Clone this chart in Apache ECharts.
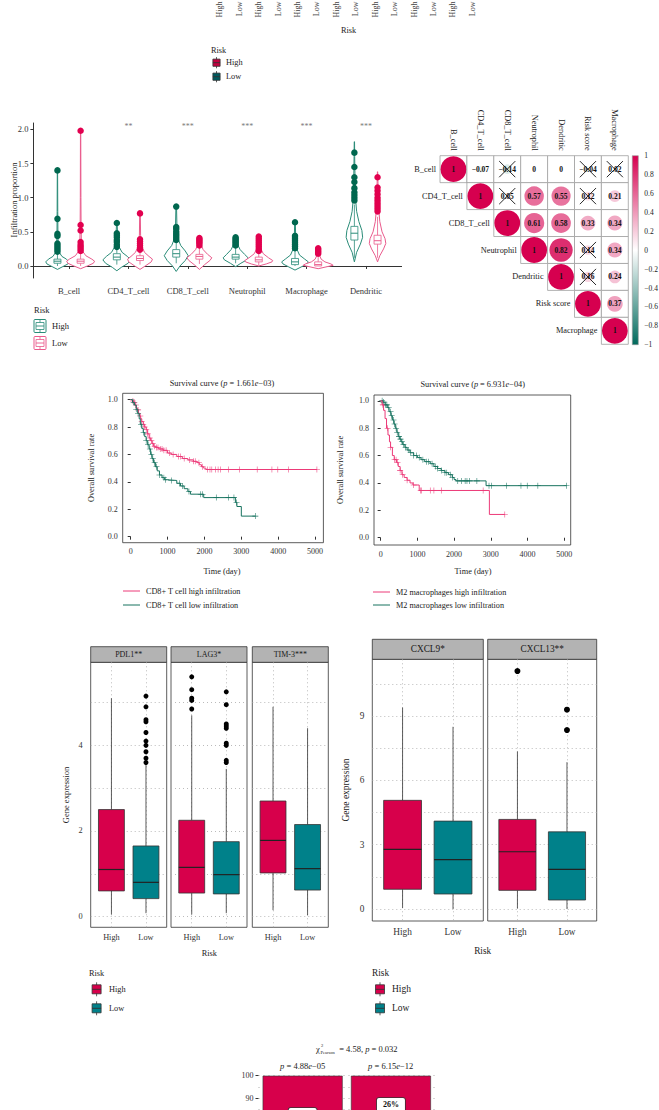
<!DOCTYPE html>
<html>
<head>
<meta charset="utf-8">
<script src="https://cdn.jsdelivr.net/npm/echarts@6/dist/echarts.min.js"></script>
<style>
html,body{margin:0;padding:0;background:#fff;}
#main{width:659px;height:1110px;}
</style>
</head>
<body>
<div id="main"></div>
<script>
var FONT = '"Liberation Serif", "DejaVu Serif", serif';

// panel A (only its bottom is visible)
var topLabels = ['High','Low','High','Low','High','Low','High','Low','High','Low','High','Low','High','Low'];

// panel B: violins
var cellTypes = ['B_cell','CD4_T_cell','CD8_T_cell','Neutrophil','Macrophage','Dendritic'];
var cellSignif = ['','**','***','***','***','***'];
var violinTicks = [0, 0.5, 1, 1.5, 2];
// [lower, q1, median, q3, upper]
var vHighBox = [[0,0.04,0.07,0.10,0.19],[0.02,0.09,0.13,0.18,0.26],[0.04,0.13,0.18,0.24,0.36],[0.04,0.10,0.13,0.17,0.27],[0,0.02,0.06,0.11,0.25],[0.12,0.38,0.48,0.58,0.9]];
var vLowBox  = [[0,0.04,0.07,0.10,0.19],[0.02,0.08,0.11,0.15,0.24],[0.03,0.10,0.14,0.17,0.27],[0.01,0.06,0.09,0.13,0.21],[0,0.00,0.02,0.06,0.13],[0.12,0.32,0.37,0.45,0.72]];
var vHighOut = [[1.4,0.69,0.47,0.44,0.33,0.3,0.27,0.24,0.21],[0.63,0.48,0.45,0.42,0.38,0.35,0.31,0.28],[0.87,0.57,0.54,0.5,0.47,0.44,0.41,0.38],[0.42,0.4,0.38,0.36,0.34,0.32,0.3],[0.64,0.44,0.41,0.38,0.35,0.32,0.29,0.26],[1.66,1.45,1.3,1.23,1.14,1.08,1.04,1.0,0.96]];
var vLowOut  = [[1.98,0.6,0.52,0.35,0.31,0.28,0.25,0.22],[0.77,0.39,0.36,0.33,0.3,0.27,0.24],[0.41,0.39,0.37,0.35,0.33,0.3],[0.43,0.4,0.37,0.34,0.31,0.28,0.25,0.22],[0.26,0.24,0.22,0.2,0.18],[1.3,1.15,1.1,1.05,1.0,0.96,0.92,0.88,0.84,0.8]];
// density profile [value, relative half width]
var vHighDens = [
  [[-0.05,0],[-0.01,0.35],[0.03,0.7],[0.06,0.78],[0.1,0.6],[0.14,0.3],[0.2,0.12],[0.3,0.05],[0.5,0.03],[0.8,0.02],[1.4,0.01]],
  [[-0.07,0],[-0.02,0.3],[0.04,0.75],[0.09,0.93],[0.14,0.7],[0.2,0.35],[0.28,0.15],[0.4,0.06],[0.63,0.02]],
  [[-0.08,0],[0,0.25],[0.08,0.6],[0.15,0.8],[0.22,0.6],[0.3,0.3],[0.4,0.12],[0.55,0.05],[0.87,0.02]],
  [[-0.01,0],[0.04,0.35],[0.09,0.75],[0.12,0.83],[0.17,0.6],[0.24,0.3],[0.32,0.12],[0.42,0.03]],
  [[-0.06,0],[-0.01,0.45],[0.03,0.8],[0.06,0.89],[0.1,0.65],[0.16,0.3],[0.25,0.12],[0.4,0.05],[0.64,0.02]],
  [[0.06,0],[0.2,0.15],[0.32,0.4],[0.42,0.55],[0.52,0.5],[0.65,0.3],[0.8,0.15],[1.0,0.07],[1.3,0.04],[1.6,0.02],[1.82,0.01]]
];
var vLowDens = [
  [[-0.04,0],[0,0.45],[0.04,0.85],[0.07,0.93],[0.1,0.75],[0.15,0.35],[0.22,0.12],[0.35,0.05],[0.6,0.03],[1.0,0.02],[1.98,0.01]],
  [[-0.05,0],[0,0.35],[0.06,0.75],[0.1,0.83],[0.14,0.6],[0.2,0.3],[0.3,0.1],[0.45,0.04],[0.77,0.02]],
  [[-0.05,0],[0.02,0.35],[0.08,0.7],[0.12,0.83],[0.17,0.55],[0.24,0.25],[0.32,0.1],[0.41,0.03]],
  [[0,0],[0.03,0.5],[0.06,0.88],[0.08,0.93],[0.12,0.65],[0.18,0.3],[0.26,0.12],[0.35,0.05],[0.43,0.02]],
  [[-0.04,0],[-0.01,0.6],[0.01,1.0],[0.03,0.85],[0.06,0.45],[0.1,0.2],[0.16,0.08],[0.26,0.03]],
  [[0.06,0],[0.15,0.15],[0.25,0.4],[0.33,0.55],[0.4,0.5],[0.5,0.3],[0.65,0.15],[0.85,0.07],[1.1,0.04],[1.38,0.01]]
];

// panel C: correlation
var corrVars = ['B_cell','CD4_T_cell','CD8_T_cell','Neutrophil','Dendritic','Risk score','Macrophage'];
var corrMatrix = [
  [1,-0.07,-0.14,0,0,-0.04,0.02],
  [null,1,0.05,0.57,0.55,0.12,0.21],
  [null,null,1,0.61,0.58,0.33,0.34],
  [null,null,null,1,0.82,0.14,0.34],
  [null,null,null,null,1,0.16,0.24],
  [null,null,null,null,null,1,0.37],
  [null,null,null,null,null,null,1]
];
var corrNonSig = [[0,2],[0,5],[0,6],[1,2],[1,5],[3,5],[4,5]];
var corrTicks = [-1,-0.8,-0.6,-0.4,-0.2,0,0.2,0.4,0.6,0.8,1];

// panel D/E: survival
var survTicksX = [0,1000,2000,3000,4000,5000];
var survTicksY = [0,0.2,0.4,0.6,0.8,1];
var cd8High = [[0,1],[40,0.99],[80,0.98],[120,0.96],[150,0.94],[180,0.925],[210,0.9],[240,0.88],[270,0.86],[300,0.84],[340,0.82],[380,0.8],[420,0.78],[460,0.75],[500,0.72],[540,0.7],[580,0.68],[620,0.66],[680,0.65],[760,0.64],[880,0.63],[1000,0.61],[1100,0.6],[1250,0.585],[1400,0.57],[1550,0.56],[1700,0.55],[1800,0.54],[1860,0.525],[1920,0.51],[1980,0.5],[2040,0.49],[5050,0.49]];
var cd8HighCens = [60,100,140,200,260,300,340,380,420,460,520,560,600,650,700,740,800,850,900,960,1050,1150,1300,1350,1450,1600,1700,1750,1850,1950,2080,2150,2200,2300,2370,2430,2650,2950,3430,3830,3990,4280,5050];
var cd8Low = [[0,1],[50,0.98],[100,0.96],[150,0.93],[190,0.9],[230,0.86],[260,0.82],[300,0.79],[340,0.76],[380,0.73],[420,0.7],[460,0.67],[500,0.64],[540,0.6],[580,0.57],[620,0.54],[670,0.51],[720,0.48],[780,0.45],[850,0.43],[920,0.415],[1000,0.41],[1250,0.39],[1350,0.37],[1450,0.35],[1550,0.33],[1620,0.31],[1980,0.285],[2840,0.25],[2880,0.22],[3000,0.15],[3380,0.15]];
var cd8LowCens = [80,150,200,280,350,420,470,520,560,600,650,700,780,900,950,1100,1320,1400,1580,1900,1950,2320,2650,2800,2870,3380];
var m2High = [[0,1],[40,0.97],[80,0.93],[120,0.87],[160,0.8],[200,0.75],[240,0.7],[270,0.66],[320,0.6],[370,0.57],[430,0.55],[480,0.52],[530,0.49],[580,0.46],[640,0.44],[720,0.42],[800,0.4],[880,0.385],[1050,0.345],[2960,0.17],[3380,0.17]];
var m2HighCens = [60,190,270,380,420,460,530,600,720,900,1090,1110,1350,1450,1650,2790,3380];
var m2Low = [[0,1],[60,0.99],[120,0.97],[180,0.95],[230,0.92],[280,0.89],[320,0.86],[360,0.83],[400,0.8],[440,0.77],[480,0.74],[520,0.72],[560,0.7],[600,0.68],[660,0.66],[720,0.64],[800,0.62],[900,0.6],[1000,0.585],[1100,0.57],[1200,0.555],[1350,0.54],[1450,0.52],[1550,0.505],[1650,0.49],[1750,0.475],[1850,0.46],[1950,0.44],[2000,0.425],[2050,0.415],[2870,0.38],[5060,0.38]];
var m2LowCens = [40,80,130,170,220,270,300,350,380,420,450,500,540,580,620,680,750,820,900,980,1050,1150,1250,1300,1400,1500,1550,1650,1750,1800,1900,1950,2100,2200,2300,2350,2420,2620,2950,3020,3430,3820,3990,4280,5060];

// panel F/G: checkpoint genes, [lower, q1, median, q3, upper]
var riskGroups = ['High','Low'];
var genesA = ['PDL1**','LAG3*','TIM-3***'];
var genesAStats = [
  [[0.05,0.6,1.1,2.5,5.1],[0.08,0.42,0.8,1.65,3.55]],
  [[0.05,0.55,1.15,2.25,4.7],[0.08,0.53,0.98,1.75,3.45]],
  [[0.15,1.02,1.78,2.7,4.9],[0.03,0.62,1.12,2.15,4.4]]
];
var genesAOut = [
  [[],[3.6,3.7,3.85,4.0,4.1,4.3,4.55,4.6,4.9,5.15]],
  [[4.85,5.05,5.1,5.3,5.6],[3.6,3.65,4.0,4.05,4.4,4.45,4.5,4.95,5.25]],
  [[],[]]
];
var genesATicks = [0,2,4];
var genesAGrid = [0,1,2,3,4,5];
var genesB = ['CXCL9*','CXCL13**'];
var genesBStats = [
  [[0.05,0.92,2.78,5.07,9.4],[0,0.7,2.3,4.1,8.5]],
  [[0.02,0.87,2.67,4.18,7.35],[0,0.42,1.85,3.6,6.85]]
];
var genesBOut = [[[],[]],[[11.1],[8.35,9.3]]];
var genesBTicks = [0,3,6,9];
var genesBGrid = [0,1.5,3,4.5,6,7.5,9,10.5];

// panel H: proportions (top of bars only visible)
var barGroups = ['High','Low'];
var barHighPct = [35, 26];
var barLowPct = [65, 74];
var barTicksShown = [90, 100];

var RED = '#D7004B', TEAL = '#00818A';
var VG_DOT = '#00674F', VG_LINE = '#2A8C78', VP_DOT = '#E2004F', VP_LINE = '#EA5A8C';
var S_PINK = '#EC3A78', S_GREEN = '#17735F';
var C_POS = [214, 0, 79], C_NEG = [0, 105, 92];

function lab(size, extra){ var o = {fontFamily: FONT, fontSize: size, color: '#333'}; for (var k in extra) o[k] = extra[k]; return o; }
function gbox(l, t, w, h, extra){ var g = {left:l, top:t, width:w, height:h, containLabel:false, outerBoundsMode:'none'}; for (var k in extra) g[k] = extra[k]; return g; }
function fmt1(v){ return v.toFixed(1); }

var grids = [], xAxes = [], yAxes = [], series = [], gfx = [];

// ---------- grid 0: bottom of panel A ----------
grids.push(gbox(210, -100, 272, 95.5));
xAxes.push({type:'category', gridIndex:0, data: topLabels, axisLine:{show:false}, axisTick:{show:false},
  axisLabel: lab(8, {rotate:90, margin:6, interval:0, color:'#444'})});
yAxes.push({type:'value', gridIndex:0, show:false});

// ---------- grid 1: violins ----------
grids.push(gbox(33.4, 123, 368.2, 155));
xAxes.push({type:'value', gridIndex:1, min:0.4, max:6.6, splitLine:{show:false},
  axisLine:{lineStyle:{color:'#333', width:1}},
  axisTick:{customValues:[1,2,3,4,5,6], length:3, lineStyle:{color:'#333'}},
  axisLabel: lab(8.5, {customValues:[1,2,3,4,5,6], margin:8, formatter:function(v){ return cellTypes[Math.round(v)-1]; }})});
yAxes.push({type:'value', gridIndex:1, min:-0.176, max:2.094, splitLine:{show:false},
  axisLine:{show:true, lineStyle:{color:'#333', width:1}},
  axisTick:{show:true, customValues:violinTicks, length:3, lineStyle:{color:'#333'}},
  axisLabel: lab(8.5, {customValues:violinTicks, margin:5, formatter:fmt1})});

var VW = 15, VBW = 7, DODGE = 0.195;
function violinSeries(dens, box, off, stroke, name){
  return {
    type:'custom', name:name, xAxisIndex:1, yAxisIndex:1, z:2,
    data: cellTypes.map(function(c, i){ return [i + 1 + off, box[i][2]]; }),
    renderItem: function(params, api){
      var i = params.dataIndex, d = dens[i], b = box[i];
      var cx = api.coord([api.value(0), 0])[0], pts = [], k;
      for (k = 0; k < d.length; k++) pts.push([cx - d[k][1] * VW, api.coord([0, d[k][0]])[1]]);
      for (k = d.length - 1; k >= 0; k--) pts.push([cx + d[k][1] * VW, api.coord([0, d[k][0]])[1]]);
      var yl = api.coord([0, b[0]])[1], y1 = api.coord([0, b[1]])[1], ym = api.coord([0, b[2]])[1],
          y3 = api.coord([0, b[3]])[1], yh = api.coord([0, b[4]])[1];
      return {type:'group', children:[
        {type:'polygon', shape:{points:pts}, style:{fill:'#fff', stroke:stroke, lineWidth:1}},
        {type:'line', shape:{x1:cx, y1:yl, x2:cx, y2:y1}, style:{stroke:stroke, lineWidth:0.8}},
        {type:'line', shape:{x1:cx, y1:y3, x2:cx, y2:yh}, style:{stroke:stroke, lineWidth:0.8}},
        {type:'rect', shape:{x:cx - VBW/2, y:y3, width:VBW, height:Math.max(y1 - y3, 1)}, style:{fill:'#fff', stroke:stroke, lineWidth:0.8}},
        {type:'line', shape:{x1:cx - VBW/2, y1:ym, x2:cx + VBW/2, y2:ym}, style:{stroke:stroke, lineWidth:1}}
      ]};
    }
  };
}
function outPoints(outs, off){
  var pts = [];
  outs.forEach(function(list, i){ list.forEach(function(v){ pts.push([i + 1 + off, v]); }); });
  return pts;
}
series.push(violinSeries(vHighDens, vHighBox, -DODGE, VG_LINE, 'High'));
series.push(violinSeries(vLowDens, vLowBox, DODGE, VP_LINE, 'Low'));
series.push({type:'scatter', xAxisIndex:1, yAxisIndex:1, z:3, symbolSize:6.5, itemStyle:{color:VG_DOT, opacity:1}, data: outPoints(vHighOut, -DODGE)});
series.push({type:'scatter', xAxisIndex:1, yAxisIndex:1, z:3, symbolSize:6.5, itemStyle:{color:VP_DOT, opacity:1}, data: outPoints(vLowOut, DODGE)});
series.push({type:'scatter', xAxisIndex:1, yAxisIndex:1, symbolSize:0, silent:true,
  data: cellSignif.map(function(s, i){ return [i + 1, 2.04]; }),
  label:{show:true, position:'inside', formatter:function(p){ return cellSignif[p.dataIndex]; }, fontFamily:FONT, fontSize:8, color:'#555'}});

// ---------- grid 2: correlation ----------
grids.push(gbox(440, 155.7, 188.3, 188.6));
xAxes.push({type:'category', gridIndex:2, position:'top', data:corrVars, axisLine:{show:false}, axisTick:{show:false},
  axisLabel: lab(8.3, {rotate:90, margin:5, interval:0, color:'#222'})});
yAxes.push({type:'category', gridIndex:2, data:corrVars, inverse:true, show:false});

function mix(a, t){ return 'rgb(' + Math.round(255 + (a[0]-255)*t) + ',' + Math.round(255 + (a[1]-255)*t) + ',' + Math.round(255 + (a[2]-255)*t) + ')'; }
function corrColor(v){ return v >= 0 ? mix(C_POS, v) : mix(C_NEG, -v); }
function corrText(v){ if (v === 1) return '1'; if (v === 0) return '0'; return (v < 0 ? '\u2212' : '') + Math.abs(v).toFixed(2); }
function isNonSig(r, c){ return corrNonSig.some(function(p){ return p[0] === r && p[1] === c; }); }
var corrData = [];
corrMatrix.forEach(function(row, r){ row.forEach(function(v, c){ if (v !== null) corrData.push([c, r, v, isNonSig(r, c) ? 1 : 0]); }); });
series.push({type:'custom', xAxisIndex:2, yAxisIndex:2, data:corrData,
  renderItem: function(params, api){
    var c = api.value(0), r = api.value(1), v = api.value(2), ns = api.value(3);
    var p = api.coord([c, r]), sz = api.size([1, 1]), w = sz[0], h = sz[1];
    var ch = [{type:'rect', shape:{x:p[0]-w/2, y:p[1]-h/2, width:w, height:h}, style:{fill:'#fff', stroke:'#a0a0a0', lineWidth:0.8}}];
    var rad = 0.48 * Math.min(w, h) * Math.sqrt(Math.abs(v));
    if (rad > 0.5) ch.push({type:'circle', shape:{cx:p[0], cy:p[1], r:rad}, style:{fill:corrColor(v)}});
    ch.push({type:'text', style:{text:corrText(v), x:p[0], y:p[1], align:'center', verticalAlign:'middle', font:'bold 7.5px ' + FONT, fill:'#111'}});
    if (ns) {
      var q = w * 0.3;
      ch.push({type:'line', shape:{x1:p[0]-q, y1:p[1]-q, x2:p[0]+q, y2:p[1]+q}, style:{stroke:'#111', lineWidth:0.9}});
      ch.push({type:'line', shape:{x1:p[0]-q, y1:p[1]+q, x2:p[0]+q, y2:p[1]-q}, style:{stroke:'#111', lineWidth:0.9}});
    }
    if (c === r) ch.push({type:'text', style:{text:corrVars[r], x:p[0]-w/2-4, y:p[1], align:'right', verticalAlign:'middle', font:'8.3px ' + FONT, fill:'#222'}});
    return {type:'group', children:ch};
  }});

// ---------- grid 3: colour bar ----------
grids.push(gbox(632.3, 155.7, 6, 189));
xAxes.push({type:'value', gridIndex:3, min:0, max:1, show:false});
yAxes.push({type:'value', gridIndex:3, min:-1, max:1, position:'right', splitLine:{show:false}, axisLine:{show:false},
  axisTick:{show:false, customValues:corrTicks},
  axisLabel: lab(7.5, {customValues:corrTicks, margin:6, color:'#222', formatter:function(v){ var s = Math.abs(v) < 1e-9 ? '0' : String(Math.round(Math.abs(v)*10)/10); return (v < -1e-9 ? '\u2212' : '') + s; }})});
series.push({type:'custom', xAxisIndex:3, yAxisIndex:3, data:[[0.5, 0]],
  renderItem: function(params, api){
    var a = api.coord([0, 1]), b = api.coord([1, -1]);
    return {type:'rect', shape:{x:a[0], y:a[1], width:b[0]-a[0], height:b[1]-a[1]},
      style:{stroke:'#999', lineWidth:0.6, fill:new echarts.graphic.LinearGradient(0, 0, 0, 1, [
        {offset:0, color:corrColor(1)}, {offset:0.5, color:'#fff'}, {offset:1, color:corrColor(-1)}])}};
  }});

// ---------- grids 4,5: survival ----------
var PLUS = 'path://M-1,-0.09H1V0.09H-1Z M-0.09,-1H0.09V1H-0.09Z';
function stepAt(curve, t){ var s = curve[0][1]; for (var k = 0; k < curve.length; k++) if (curve[k][0] <= t) s = curve[k][1]; return s; }
function survGrid(gi, l, t, w, h, xmin, xmax, ymin, ymax){
  grids.push(gbox(l, t, w, h, {show:true, borderColor:'#333', borderWidth:0.8}));
  xAxes.push({type:'value', gridIndex:gi, min:xmin, max:xmax, splitLine:{show:false}, axisLine:{show:false},
    axisTick:{show:true, customValues:survTicksX, length:3, lineStyle:{color:'#333'}},
    axisLabel: lab(8, {customValues:survTicksX, margin:5, formatter:function(v){ return String(v); }})});
  yAxes.push({type:'value', gridIndex:gi, min:ymin, max:ymax, splitLine:{show:false}, axisLine:{show:false},
    axisTick:{show:true, customValues:survTicksY, length:3, lineStyle:{color:'#333'}},
    axisLabel: lab(8, {customValues:survTicksY, margin:5, formatter:fmt1})});
}
function survSeries(gi, curve, cens, color){
  series.push({type:'line', xAxisIndex:gi, yAxisIndex:gi, step:'end', data:curve, showSymbol:false, lineStyle:{color:color, width:1}});
  series.push({type:'scatter', xAxisIndex:gi, yAxisIndex:gi, symbol:PLUS, symbolSize:6, itemStyle:{color:color, opacity:1},
    data: cens.map(function(t){ return [t, stepAt(curve, t)]; })});
}
survGrid(4, 122.7, 393.3, 200.7, 149.4, -217, 5226, -0.044, 1.046);
survSeries(4, cd8High, cd8HighCens, S_PINK);
survSeries(4, cd8Low, cd8LowCens, S_GREEN);
survGrid(5, 374, 395, 196.7, 150, -181, 5174, -0.053, 1.042);
survSeries(5, m2Low, m2LowCens, S_GREEN);
survSeries(5, m2High, m2HighCens, S_PINK);

// ---------- grids 6-10: boxplot facets ----------
var BOXW = 0.75;
function facet(gi, l, t, w, h, ymin, ymax, gridVals, tickVals, stats, outs, dotSize, lblSize){
  grids.push(gbox(l, t, w, h, {show:true, borderColor:'#333', borderWidth:0.8}));
  xAxes.push({type:'value', gridIndex:gi, min:0.4, max:2.6, axisLine:{show:false},
    axisTick:{show:false, customValues:[1,2]},
    splitLine:{show:true, lineStyle:{color:'#aaa', type:[1,3], width:0.8}},
    axisLabel: lab(lblSize, {customValues:[1,2], margin:6, formatter:function(v){ return riskGroups[Math.round(v)-1]; }})});
  yAxes.push({type:'value', gridIndex:gi, min:ymin, max:ymax, axisLine:{show:false},
    axisTick:{show:false, customValues:gridVals},
    splitLine:{show:true, lineStyle:{color:'#aaa', type:[1,3], width:0.8}},
    axisLabel: tickVals ? lab(lblSize, {customValues:tickVals, margin:8}) : {show:false}});
  series.push({type:'custom', xAxisIndex:gi, yAxisIndex:gi, z:2,
    data: stats.map(function(s, k){ return [k + 1].concat(s); }),
    renderItem: function(params, api){
      var x = api.value(0), k = params.dataIndex;
      var cx = api.coord([x, 0])[0], bw = api.size([BOXW, 0])[0];
      var y = [1,2,3,4,5].map(function(d){ return api.coord([x, api.value(d)])[1]; });
      return {type:'group', children:[
        {type:'line', shape:{x1:cx, y1:y[0], x2:cx, y2:y[1]}, style:{stroke:'#333', lineWidth:0.8}},
        {type:'line', shape:{x1:cx, y1:y[3], x2:cx, y2:y[4]}, style:{stroke:'#333', lineWidth:0.8}},
        {type:'rect', shape:{x:cx - bw/2, y:y[3], width:bw, height:y[1] - y[3]}, style:{fill:k === 0 ? RED : TEAL, stroke:'#333', lineWidth:0.8}},
        {type:'line', shape:{x1:cx - bw/2, y1:y[2], x2:cx + bw/2, y2:y[2]}, style:{stroke:'#222', lineWidth:1.2}}
      ]};
    }});
  var pts = [];
  outs.forEach(function(list, k){ list.forEach(function(v){ pts.push([k + 1, v]); }); });
  series.push({type:'scatter', xAxisIndex:gi, yAxisIndex:gi, z:3, symbolSize:dotSize, itemStyle:{color:'#000', opacity:1}, data:pts});
}
var facetAL = [90.7, 171, 252.3];
genesA.forEach(function(g, i){
  facet(6 + i, facetAL[i], 662.3, 76, 265, -0.25, 5.94, genesAGrid, i === 0 ? genesATicks : null, genesAStats[i], genesAOut[i], 5, 8.3);
});
var facetBL = [372.3, 487.7], facetBW = [111, 109];
genesB.forEach(function(g, i){
  facet(9 + i, facetBL[i], 659.3, facetBW[i], 261.7, -0.56, 11.65, genesBGrid, i === 0 ? genesBTicks : null, genesBStats[i], genesBOut[i], 6, 9.3);
});

// ---------- grid 11: stacked proportions ----------
grids.push(gbox(258.5, 1075.7, 176.6, 225));
xAxes.push({type:'category', gridIndex:11, data:barGroups, axisLine:{show:false}, axisTick:{show:false}, axisLabel:{show:false}});
yAxes.push({type:'value', gridIndex:11, min:0, max:100, interval:10, axisLine:{show:false},
  axisTick:{show:true, length:3, lineStyle:{color:'#333'}},
  splitLine:{show:true, lineStyle:{color:'#999', type:[1,4], width:0.8}},
  minorTick:{show:false, splitNumber:2}, minorSplitLine:{show:true, lineStyle:{color:'#999', type:[1,4], width:0.8}},
  axisLabel: lab(8, {customValues:barTicksShown, margin:5})});
series.push({type:'bar', xAxisIndex:11, yAxisIndex:11, stack:'p', barWidth:80, z:3,
  data: barLowPct, itemStyle:{color:TEAL, borderColor:'#333', borderWidth:0.6}});
series.push({type:'bar', xAxisIndex:11, yAxisIndex:11, stack:'p', barWidth:80, z:3,
  data: barHighPct, itemStyle:{color:RED, borderColor:'#333', borderWidth:0.6},
  label:{show:true, position:'inside', formatter:'{c}%', fontFamily:FONT, fontSize:8, fontWeight:'bold', color:'#111',
    backgroundColor:'#fff', borderColor:'#333', borderWidth:0.8, borderRadius:2, padding:[3,6,3,6]}});

// ---------- text & keys ----------
function txt(x, y, s, size, extra){
  var st = {text:s, x:0, y:0, font:(extra && extra.weight ? extra.weight + ' ' : '') + size + 'px ' + FONT, fill:(extra && extra.fill) || '#222',
    align:(extra && extra.align) || 'center', verticalAlign:'middle'};
  if (extra && extra.rich) st.rich = extra.rich;
  return {type:'text', x:x, y:y, rotation:(extra && extra.rot) || 0, style:st, silent:true};
}
function boxKey(cx, cy, fill, s){
  s = s || 1;
  return {type:'group', silent:true, children:[
    {type:'line', shape:{x1:cx, y1:cy - 7*s, x2:cx, y2:cy + 7*s}, style:{stroke:'#333', lineWidth:0.8}},
    {type:'rect', shape:{x:cx - 4.5*s, y:cy - 4.5*s, width:9*s, height:9*s}, style:{fill:fill, stroke:'#333', lineWidth:0.8}},
    {type:'line', shape:{x1:cx - 4.5*s, y1:cy, x2:cx + 4.5*s, y2:cy}, style:{stroke:'#333', lineWidth:0.9}}
  ]};
}
function violinKey(cx, cy, col){
  return {type:'group', silent:true, children:[
    {type:'rect', shape:{x:cx - 6, y:cy - 6.5, width:12, height:13, r:1}, style:{fill:'#fff', stroke:col, lineWidth:1}},
    {type:'line', shape:{x1:cx, y1:cy - 6.5, x2:cx, y2:cy + 6.5}, style:{stroke:col, lineWidth:0.8}},
    {type:'rect', shape:{x:cx - 4, y:cy - 3.5, width:8, height:7}, style:{fill:'#fff', stroke:col, lineWidth:0.8}},
    {type:'line', shape:{x1:cx - 4, y1:cy, x2:cx + 4, y2:cy}, style:{stroke:col, lineWidth:0.9}}
  ]};
}
function italicRich(size){ return {n:{font:size + 'px ' + FONT, fill:'#222'}, i:{font:'italic ' + size + 'px ' + FONT, fill:'#222'}}; }

// panel A remnants
gfx.push(txt(348.5, 30, 'Risk', 8.3));
gfx.push(txt(211, 50, 'Risk', 8.3, {align:'left'}));
gfx.push(boxKey(216.5, 62.7, '#C4003F', 0.8));
gfx.push(boxKey(216.5, 76.7, '#005A5E', 0.8));
gfx.push(txt(226, 62.7, 'High', 8.3, {align:'left'}));
gfx.push(txt(226, 76.7, 'Low', 8.3, {align:'left'}));

// violin panel
gfx.push(txt(14, 200, 'Infiltration proportion', 8.5, {rot:Math.PI/2}));
gfx.push(txt(34, 310, 'Risk', 8.5, {align:'left'}));
gfx.push(violinKey(40, 326, VG_LINE));
gfx.push(violinKey(40, 343, VP_LINE));
gfx.push(txt(52, 326, 'High', 8.5, {align:'left'}));
gfx.push(txt(52, 343, 'Low', 8.5, {align:'left'}));

// survival
var rich8 = italicRich(8.3);
gfx.push(txt(222, 383, '{n|Survival curve (}{i|p}{n| = 1.661}{i|e}{n|\u221203)}', 8.3, {rich:rich8}));
gfx.push(txt(472.7, 384, '{n|Survival curve (}{i|p}{n| = 6.931}{i|e}{n|\u221204)}', 8.3, {rich:rich8}));
gfx.push(txt(91.7, 468, 'Overall survival rate', 8.3, {rot:Math.PI/2}));
gfx.push(txt(340, 470, 'Overall survival rate', 8.3, {rot:Math.PI/2}));
gfx.push(txt(222, 571.7, 'Time (day)', 8.3));
gfx.push(txt(473, 571.7, 'Time (day)', 8.3));
[[123, 591, S_PINK, 'CD8+ T cell high infiltration'], [123, 605, S_GREEN, 'CD8+ T cell low infiltration'],
 [373, 592, S_PINK, 'M2 macrophages high infiltration'], [373, 605, S_GREEN, 'M2 macrophages low infiltration']].forEach(function(L){
  gfx.push({type:'line', silent:true, shape:{x1:L[0], y1:L[1], x2:L[0] + 17, y2:L[1]}, style:{stroke:L[2], lineWidth:1}});
  gfx.push(txt(L[0] + 23, L[1], L[3], 8.2, {align:'left'}));
});

// facet strips
genesA.forEach(function(g, i){
  gfx.push({type:'rect', silent:true, shape:{x:facetAL[i], y:646.7, width:76, height:15.6}, style:{fill:'#B3B3B3', stroke:'#333', lineWidth:0.8}});
  gfx.push(txt(facetAL[i] + 38, 654.5, g, 8, {fill:'#1a1a1a'}));
});
genesB.forEach(function(g, i){
  gfx.push({type:'rect', silent:true, shape:{x:facetBL[i], y:639.3, width:facetBW[i], height:20}, style:{fill:'#B3B3B3', stroke:'#333', lineWidth:0.8}});
  gfx.push(txt(facetBL[i] + facetBW[i]/2, 649.3, g, 9.3, {fill:'#1a1a1a'}));
});
gfx.push(txt(66, 795, 'Gene expression', 8.5, {rot:Math.PI/2}));
gfx.push(txt(346, 790, 'Gene expression', 9.5, {rot:Math.PI/2}));
gfx.push(txt(209.3, 953, 'Risk', 8.3));
gfx.push(txt(482.7, 950.7, 'Risk', 9.3));
gfx.push(txt(89, 973.3, 'Risk', 8.3, {align:'left'}));
gfx.push(boxKey(96.6, 989.3, RED));
gfx.push(boxKey(96.6, 1008.3, TEAL));
gfx.push(txt(109, 989.3, 'High', 8.3, {align:'left'}));
gfx.push(txt(109, 1008.3, 'Low', 8.3, {align:'left'}));
gfx.push(txt(372, 973.3, 'Risk', 9.3, {align:'left'}));
gfx.push(boxKey(380, 989.3, RED));
gfx.push(boxKey(380, 1008.3, TEAL));
gfx.push(txt(392, 989.3, 'High', 9.5, {align:'left'}));
gfx.push(txt(392, 1008.3, 'Low', 9.5, {align:'left'}));

// proportion panel header
gfx.push(txt(316, 1048.5, '\u03c7', 8.5, {align:'left'}));
gfx.push(txt(321, 1045, '2', 4.5, {align:'left'}));
gfx.push(txt(320.5, 1052.5, 'Pearson', 4.5, {align:'left'}));
gfx.push(txt(337, 1049, '{n| = 4.58, }{i|p}{n| = 0.032}', 8.5, {align:'left', rich:italicRich(8.5)}));
gfx.push(txt(302.7, 1066, '{i|p}{n| = 4.88}{i|e}{n|\u221205}', 8.5, {rich:italicRich(8.5)}));
gfx.push(txt(390.7, 1066, '{i|p}{n| = 6.15}{i|e}{n|\u221212}', 8.5, {rich:italicRich(8.5)}));

var chart = echarts.init(document.getElementById('main'), null, {renderer:'svg', width:659, height:1110});
chart.setOption({
  animation:false,
  backgroundColor:'#fff',
  textStyle:{fontFamily:FONT},
  grid:grids, xAxis:xAxes, yAxis:yAxes, series:series,
  graphic:{elements:gfx}
});
</script>
</body>
</html>
